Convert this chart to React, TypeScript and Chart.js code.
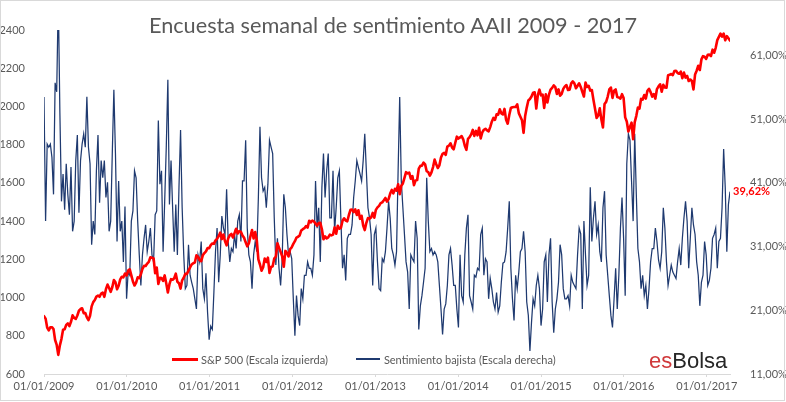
import { useEffect, useRef } from 'react';
import { Chart, registerables } from 'chart.js';

Chart.register(...registerables);

// years shown on the date axis (first day of each year)
const years = [2009, 2010, 2011, 2012, 2013, 2014, 2015, 2016, 2017];
const leftTicks = [600, 800, 1000, 1200, 1400, 1600, 1800, 2000, 2200, 2400];
const rightTicks = [11, 21, 31, 41, 51, 61];
const seriesNames = ['S&P 500 (Escala izquierda)', 'Sentimiento bajista (Escala derecha)'];

// weekly S&P 500, from the first week of 2009
const sp500 = [
  // 2009
  903, 890, 843, 828, 845, 845, 835, 778, 752, 700,
  750, 784, 832, 834, 857, 865, 851, 873, 907, 893,
  888, 906, 931, 940, 944, 918, 919, 896, 882, 905,
  954, 976, 987, 1005, 1010, 1004, 1021, 1026, 1004, 1044,
  1068, 1050, 1030, 1054, 1092, 1080, 1043, 1062, 1095, 1109,
  1106, 1126, 1115,
  // 2010
  1141, 1148, 1116, 1084, 1063, 1078, 1106, 1102, 1122, 1150,
  1166, 1165, 1178, 1187, 1211, 1208, 1206, 1128, 1157, 1071,
  1103, 1102, 1087, 1116, 1073, 1027, 1070, 1096, 1093, 1101,
  1125, 1083, 1075, 1047, 1090, 1104, 1124, 1124, 1141, 1158,
  1173, 1180, 1183, 1221, 1213, 1196, 1190, 1221, 1233, 1242,
  1259, 1258,
  // 2011
  1274, 1283, 1281, 1299, 1307, 1321, 1340, 1306, 1330, 1295,
  1273, 1309, 1326, 1333, 1314, 1337, 1360, 1335, 1348, 1344,
  1325, 1313, 1289, 1268, 1283, 1321, 1353, 1309, 1343, 1300,
  1200, 1173, 1140, 1159, 1204, 1186, 1209, 1129, 1160, 1164,
  1204, 1215, 1284, 1261, 1239, 1216, 1161, 1244, 1234, 1215,
  1254, 1263,
  // 2012
  1281, 1295, 1314, 1318, 1325, 1351, 1358, 1363, 1374, 1366,
  1402, 1393, 1403, 1398, 1387, 1376, 1390, 1391, 1357, 1305,
  1320, 1310, 1315, 1329, 1325, 1329, 1367, 1334, 1376, 1360,
  1365, 1402, 1415, 1403, 1399, 1432, 1459, 1460, 1447, 1461,
  1432, 1457, 1412, 1428, 1377, 1353, 1391, 1416, 1413, 1419,
  1443, 1418,
  // 2013
  1459, 1472, 1480, 1494, 1498, 1509, 1521, 1502, 1515, 1544,
  1563, 1545, 1569, 1559, 1593, 1541, 1585, 1597, 1626, 1656,
  1650, 1654, 1622, 1636, 1588, 1613, 1615, 1675, 1689, 1690,
  1706, 1697, 1661, 1656, 1638, 1655, 1683, 1722, 1698, 1678,
  1692, 1733, 1752, 1757, 1747, 1790, 1795, 1807, 1785, 1776,
  1810, 1842,
  // 2014
  1832, 1838, 1845, 1828, 1794, 1773, 1830, 1839, 1854, 1877,
  1846, 1872, 1849, 1888, 1833, 1864, 1878, 1883, 1875, 1870,
  1892, 1920, 1940, 1930, 1959, 1957, 1985, 1964, 1958, 1987,
  1930, 1910, 1955, 1992, 1996, 1997, 1997, 2011, 1965, 1946,
  1928, 1862, 1950, 1994, 2031, 2039, 2052, 2072, 2074, 1989,
  2061, 2088,
  // 2015
  2058, 2062, 1992, 2063, 2021, 2062, 2088, 2097, 2110, 2101,
  2065, 2089, 2056, 2066, 2092, 2105, 2112, 2086, 2088, 2121,
  2131, 2121, 2095, 2108, 2121, 2102, 2076, 2052, 2125, 2102,
  2108, 2083, 2086, 2035, 1988, 1940, 1952, 1990, 1932, 1890,
  2013, 2024, 2052, 2089, 2099, 2045, 2082, 2089, 2049, 2047,
  2041, 2064, 2044,
  // 2016
  1943, 1921, 1869, 1893, 1915, 1829, 1918, 1951, 1994, 1989,
  2040, 2036, 2060, 2041, 2082, 2092, 2075, 2051, 2065, 2041,
  2091, 2105, 2116, 2077, 2113, 2099, 2098, 2163, 2166, 2170,
  2164, 2185, 2187, 2175, 2171, 2182, 2148, 2177, 2151, 2160,
  2133, 2141, 2133, 2089, 2167, 2187, 2213, 2191, 2246, 2263,
  2260, 2249,
  // 2017
  2270, 2271, 2263, 2297, 2281, 2307, 2347, 2364, 2381, 2365,
  2381, 2346, 2368, 2357, 2345,
];

// weekly AAII bearish sentiment (%), same weeks
const bearish = [
  54.5, 35.0, 47.1, 46.6, 47.1, 45.0, 39.2, 56.7, 55.3, 70.3,
  52.0, 38.1, 42.4, 36.8, 44.0, 39.2, 36.0, 43.5, 33.4, 35.0,
  44.5, 48.5, 36.3, 44.5, 47.1, 48.7, 46.6, 54.5, 46.6, 44.0,
  31.3, 35.0, 32.9, 42.9, 48.5, 37.9, 44.5, 41.8, 44.5, 38.7,
  41.1, 33.4, 35.0, 45.6, 55.6, 45.6, 31.8, 41.3, 33.4, 35.0,
  28.6, 37.3, 22.8, 27.0, 26.5, 35.0, 36.6, 42.9, 41.8, 35.0,
  29.7, 24.9, 29.7, 32.3, 34.4, 30.2, 31.8, 33.9, 29.7, 28.6,
  36.0, 36.6, 50.8, 40.8, 42.9, 30.2, 38.1, 46.6, 57.2, 37.6,
  44.5, 37.1, 30.2, 37.6, 29.7, 40.3, 49.3, 37.1, 29.7, 24.4,
  24.9, 31.3, 26.5, 25.4, 24.4, 22.8, 21.2, 29.7, 28.6, 31.8,
  24.4, 22.8, 26.8, 20.7, 16.4, 18.5, 18.0, 23.9, 30.2, 33.9,
  25.4, 29.7, 35.8, 33.9, 32.9, 40.0, 31.8, 28.6, 30.7, 30.2,
  32.9, 30.7, 35.0, 36.0, 31.8, 41.3, 41.3, 47.7, 33.9, 29.7,
  28.6, 24.4, 29.7, 31.8, 30.2, 38.7, 49.8, 41.8, 39.7, 40.3,
  37.1, 40.8, 47.7, 46.6, 45.6, 35.5, 28.1, 32.3, 27.6, 24.9,
  29.1, 39.2, 37.1, 32.9, 29.7, 30.2, 29.1, 22.8, 17.0, 23.3,
  20.2, 18.6, 24.4, 22.8, 26.5, 26.5, 28.6, 27.6, 27.6, 26.5,
  29.7, 41.3, 33.9, 37.1, 28.6, 40.3, 45.6, 38.7, 42.9, 45.6,
  35.5, 35.5, 42.9, 33.4, 37.1, 41.8, 42.9, 35.0, 27.6, 29.7,
  25.7, 32.3, 32.9, 32.9, 34.4, 38.7, 41.3, 44.5, 43.4, 42.4,
  41.3, 44.5, 48.7, 42.9, 37.1, 35.5, 32.9, 24.9, 32.9, 33.9,
  28.6, 24.4, 24.1, 29.1, 28.6, 30.2, 33.9, 38.1, 35.5, 30.7,
  29.7, 28.1, 30.2, 42.9, 54.5, 41.3, 37.1, 32.9, 28.6, 27.0,
  21.2, 29.7, 29.1, 28.6, 35.0, 32.3, 18.0, 21.7, 23.3, 25.4,
  27.6, 41.8, 35.0, 30.2, 30.7, 29.7, 30.2, 29.7, 28.6, 24.9,
  21.2, 17.2, 21.2, 22.0, 24.9, 29.7, 30.7, 28.1, 24.9, 24.9,
  21.2, 18.3, 29.7, 23.3, 22.3, 29.7, 33.9, 36.0, 23.3, 22.3,
  21.2, 26.5, 26.2, 27.6, 27.3, 32.9, 33.9, 26.5, 29.1, 28.6,
  22.8, 26.0, 24.4, 22.3, 21.2, 23.8, 20.7, 21.7, 25.4, 28.4,
  28.6, 30.2, 33.9, 38.1, 27.6, 22.8, 19.4, 26.5, 24.4, 27.0,
  30.2, 30.7, 33.4, 30.2, 22.3, 20.2, 14.6, 19.1, 22.8, 21.7,
  24.9, 26.5, 24.4, 18.6, 21.2, 28.6, 29.7, 22.3, 29.7, 32.3,
  22.3, 17.5, 21.2, 22.8, 25.4, 31.3, 29.7, 24.4, 22.8, 22.8,
  23.3, 21.7, 26.5, 25.4, 24.9, 24.4, 29.7, 33.9, 33.0, 21.2,
  35.0, 29.7, 24.9, 26.5, 40.3, 31.8, 35.5, 38.1, 32.9, 34.4,
  30.2, 28.6, 37.1, 39.7, 29.7, 26.5, 23.3, 20.2, 18.3, 22.8,
  27.6, 21.2, 26.5, 33.9, 38.7, 32.3, 23.3, 44.0, 48.7, 47.7,
  41.3, 35.0, 48.7, 39.2, 30.7, 28.6, 24.4, 26.5, 23.3, 24.9,
  21.2, 24.4, 28.6, 30.7, 30.7, 33.9, 31.8, 28.9, 27.6, 30.2,
  37.1, 33.9, 28.6, 24.9, 26.5, 28.1, 27.0, 26.5, 26.0, 28.6,
  30.7, 28.1, 32.3, 35.5, 38.1, 35.0, 27.6, 32.3, 37.1, 34.4,
  32.9, 28.6, 26.5, 21.7, 25.4, 26.5, 31.8, 29.7, 24.9, 25.7,
  27.6, 32.3, 32.9, 33.9, 27.6, 31.8, 32.3, 37.1, 46.3, 40.3,
  30.2, 37.6, 39.62,
];

const RED = '#ff0000';
const NAVY = '#1f3a70';
const GREY = '#595959';
const FONT = 'Lato, "Open Sans", sans-serif';

// position on the x axis = weeks since 01/01/2009
const weekOf = (year: number) => (Date.UTC(year, 0, 1) - Date.UTC(years[0], 0, 1)) / (7 * 86400000);
const pct = (v: number) => v.toFixed(2).replace('.', ',') + '%';

const lastValueLabel = {
  id: 'lastValueLabel',
  afterDatasetsDraw(chart: any) {
    const meta = chart.getDatasetMeta(1);
    const pt = meta.data[meta.data.length - 1];
    if (!pt) return;
    const ctx = chart.ctx;
    ctx.save();
    ctx.font = `bold 11px ${FONT}`;
    ctx.fillStyle = RED;
    ctx.textBaseline = 'middle';
    ctx.textAlign = 'left';
    ctx.fillText(pct(bearish[bearish.length - 1]), pt.x + 3, pt.y);
    ctx.restore();
  },
};

export default function App() {
  const canvasRef = useRef<HTMLCanvasElement>(null);

  useEffect(() => {
    const el = canvasRef.current;
    if (!el) return;

    const chart = new Chart(el, {
      type: 'line',
      data: {
        datasets: [
          {
            label: seriesNames[0],
            data: sp500.map((v, i) => ({ x: i, y: v })),
            yAxisID: 'y',
            borderColor: RED,
            borderWidth: 2.6,
            borderJoinStyle: 'round',
            borderCapStyle: 'round',
            pointRadius: 0,
            tension: 0,
            order: 1,
          },
          {
            label: seriesNames[1],
            data: bearish.map((v, i) => ({ x: i, y: v })),
            yAxisID: 'y1',
            borderColor: NAVY,
            borderWidth: 1.25,
            pointRadius: 0,
            tension: 0,
            order: 2,
          },
        ],
      },
      options: {
        responsive: false,
        animation: false,
        events: [],
        layout: { padding: { top: 30, left: 0, right: 0, bottom: 0 } },
        plugins: {
          legend: { display: false },
          tooltip: { enabled: false },
        },
        scales: {
          x: {
            type: 'linear',
            min: 0,
            max: sp500.length - 1,
            afterBuildTicks: (s: any) => {
              s.ticks = years.map((y) => ({ value: weekOf(y) }));
            },
            afterFit: (s: any) => {
              s.height = 28;
            },
            ticks: {
              autoSkip: false,
              maxRotation: 0,
              padding: 3,
              color: GREY,
              font: { family: FONT, size: 11 },
              callback: (_v: any, i: number) => `01/01/${years[i]}`,
            },
            grid: { drawOnChartArea: false, drawTicks: true, tickLength: 3, color: '#d9d9d9' },
            border: { display: true, color: '#d9d9d9', width: 1 },
          },
          y: {
            position: 'left',
            min: leftTicks[0],
            max: leftTicks[leftTicks.length - 1],
            afterBuildTicks: (s: any) => {
              s.ticks = leftTicks.map((v) => ({ value: v }));
            },
            afterFit: (s: any) => {
              s.width = 44;
            },
            ticks: {
              padding: 11,
              color: GREY,
              font: { family: FONT, size: 11 },
              callback: (v: any) => String(v),
            },
            grid: { display: false },
            border: { display: false },
          },
          y1: {
            position: 'right',
            min: 11,
            max: 65,
            afterBuildTicks: (s: any) => {
              s.ticks = rightTicks.map((v) => ({ value: v }));
            },
            afterFit: (s: any) => {
              s.width = 56;
            },
            ticks: {
              padding: 12,
              color: GREY,
              font: { family: FONT, size: 11 },
              callback: (v: any) => pct(Number(v)),
            },
            grid: { display: false },
            border: { display: false },
          },
        },
      },
      plugins: [lastValueLabel],
    });

    return () => {
      chart.destroy();
    };
  }, []);

  return (
    <div style={{ position: 'relative', width: 786, height: 402, background: '#fff', fontFamily: FONT }}>
      <style>{'body{margin:0;background:#fff}'}</style>
      <canvas ref={canvasRef} width={786} height={402} style={{ display: 'block' }} />
      <div
        style={{
          position: 'absolute',
          top: 11,
          left: 0,
          width: 786,
          textAlign: 'center',
          fontSize: 21.7,
          lineHeight: '28px',
          color: GREY,
        }}
      >
        Encuesta semanal de sentimiento AAII 2009 - 2017
      </div>
      <div
        style={{
          position: 'absolute',
          left: 172,
          top: 351,
          height: 16,
          display: 'flex',
          alignItems: 'center',
          fontSize: 11,
          color: GREY,
          whiteSpace: 'nowrap',
        }}
      >
        <span style={{ display: 'inline-block', width: 26, height: 3, background: RED, marginRight: 3 }} />
        <span>{seriesNames[0]}</span>
        <span style={{ display: 'inline-block', width: 24, height: 1.5, background: NAVY, marginLeft: 28, marginRight: 4 }} />
        <span>{seriesNames[1]}</span>
      </div>
      <div
        style={{
          position: 'absolute',
          left: 649,
          top: 347,
          fontFamily: '"Liberation Sans", Arial, sans-serif',
          fontSize: 22,
          lineHeight: '28px',
          whiteSpace: 'nowrap',
        }}
      >
        <span style={{ color: '#d0393b' }}>es</span>
        <span style={{ color: '#262626' }}>Bolsa</span>
      </div>
      <div
        style={{
          position: 'absolute',
          left: 0,
          top: 0,
          width: 785,
          height: 401,
          boxSizing: 'border-box',
          border: '1px solid #d9d9d9',
          pointerEvents: 'none',
        }}
      />
    </div>
  );
}
